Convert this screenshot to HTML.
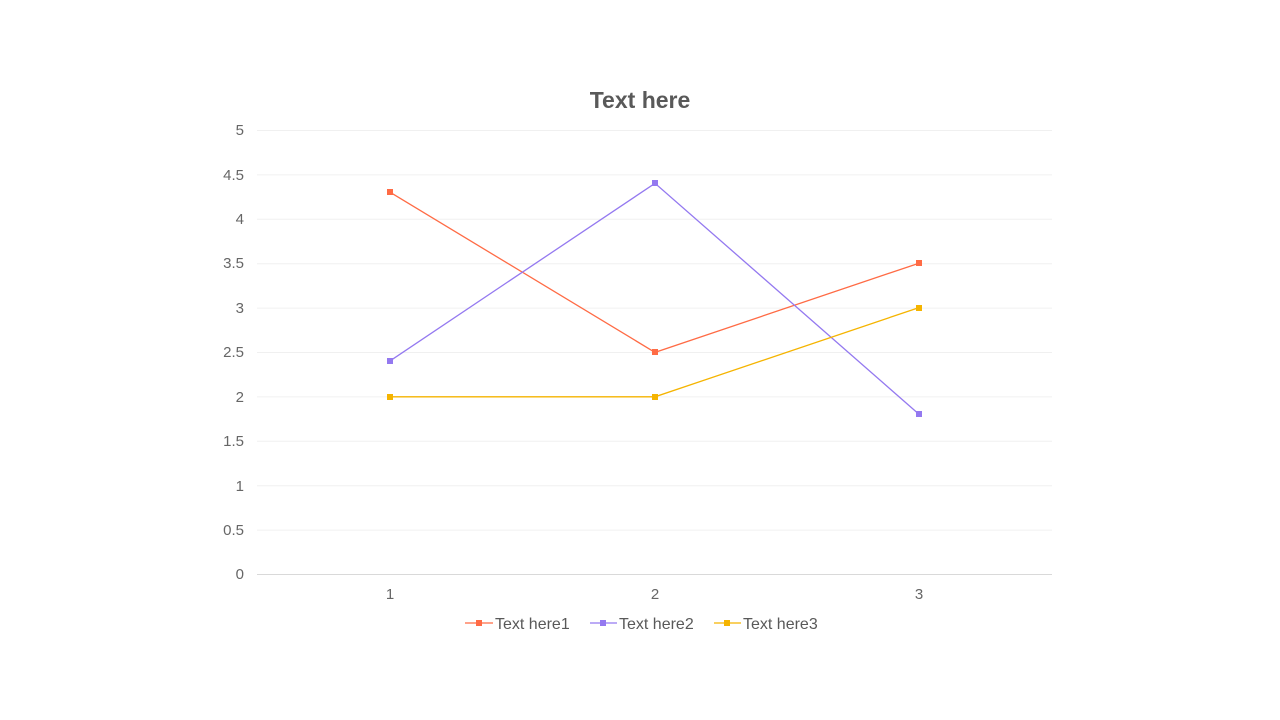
<!DOCTYPE html>
<html><head><meta charset="utf-8"><style>body{margin:0;background:#fff}svg{display:block}</style></head><body>
<svg width="1280" height="720" xmlns="http://www.w3.org/2000/svg" font-family="Liberation Sans, sans-serif">
<rect width="1280" height="720" fill="#fff"/>
<text x="640" y="108" text-anchor="middle" font-size="23" font-weight="bold" fill="#595959">Text here</text>
<g stroke="#f0f0f0" stroke-width="1">
<line x1="257" x2="1052" y1="130.5" y2="130.5"/><line x1="257" x2="1052" y1="174.9" y2="174.9"/>
<line x1="257" x2="1052" y1="219.3" y2="219.3"/><line x1="257" x2="1052" y1="263.7" y2="263.7"/>
<line x1="257" x2="1052" y1="308.1" y2="308.1"/><line x1="257" x2="1052" y1="352.5" y2="352.5"/>
<line x1="257" x2="1052" y1="396.9" y2="396.9"/><line x1="257" x2="1052" y1="441.3" y2="441.3"/>
<line x1="257" x2="1052" y1="485.7" y2="485.7"/><line x1="257" x2="1052" y1="530.1" y2="530.1"/>
</g>
<line x1="257" x2="1052" y1="574.5" y2="574.5" stroke="#d9d9d9"/>
<g font-size="15" fill="#666" text-anchor="end">
<text x="244" y="135">5</text><text x="244" y="180">4.5</text><text x="244" y="224">4</text>
<text x="244" y="268">3.5</text><text x="244" y="313">3</text><text x="244" y="357">2.5</text>
<text x="244" y="402">2</text><text x="244" y="446">1.5</text><text x="244" y="491">1</text>
<text x="244" y="535">0.5</text><text x="244" y="579">0</text>
</g>
<g font-size="15" fill="#666" text-anchor="middle">
<text x="390" y="599">1</text><text x="655" y="599">2</text><text x="919" y="599">3</text>
</g>
<polyline points="390,192.2 655,352.4 919,263.2" fill="none" stroke="#FF6B45" stroke-width="1.3"/>
<polyline points="390,360.9 655,183.3 919,414.2" fill="none" stroke="#9479F0" stroke-width="1.3"/>
<polyline points="390,396.8 655,396.8 919,307.6" fill="none" stroke="#F5B400" stroke-width="1.3"/>
<g fill="#FF6B45"><rect x="387" y="189" width="6" height="6"/><rect x="652" y="349" width="6" height="6"/><rect x="916" y="260" width="6" height="6"/></g>
<g fill="#9479F0"><rect x="387" y="358" width="6" height="6"/><rect x="652" y="180" width="6" height="6"/><rect x="916" y="411" width="6" height="6"/></g>
<g fill="#F5B400"><rect x="387" y="394" width="6" height="6"/><rect x="652" y="394" width="6" height="6"/><rect x="916" y="305" width="6" height="6"/></g>
<g font-size="16" fill="#595959">
<line x1="465" x2="493" y1="623" y2="623" stroke="#FF6B45" stroke-width="1.3"/><rect x="476" y="620" width="6" height="6" fill="#FF6B45"/>
<text x="495" y="629">Text here1</text>
<line x1="590" x2="617" y1="623" y2="623" stroke="#9479F0" stroke-width="1.3"/><rect x="600" y="620" width="6" height="6" fill="#9479F0"/>
<text x="619" y="629">Text here2</text>
<line x1="714" x2="741" y1="623" y2="623" stroke="#F5B400" stroke-width="1.3"/><rect x="724" y="620" width="6" height="6" fill="#F5B400"/>
<text x="743" y="629">Text here3</text>
</g>
</svg>
</body></html>
